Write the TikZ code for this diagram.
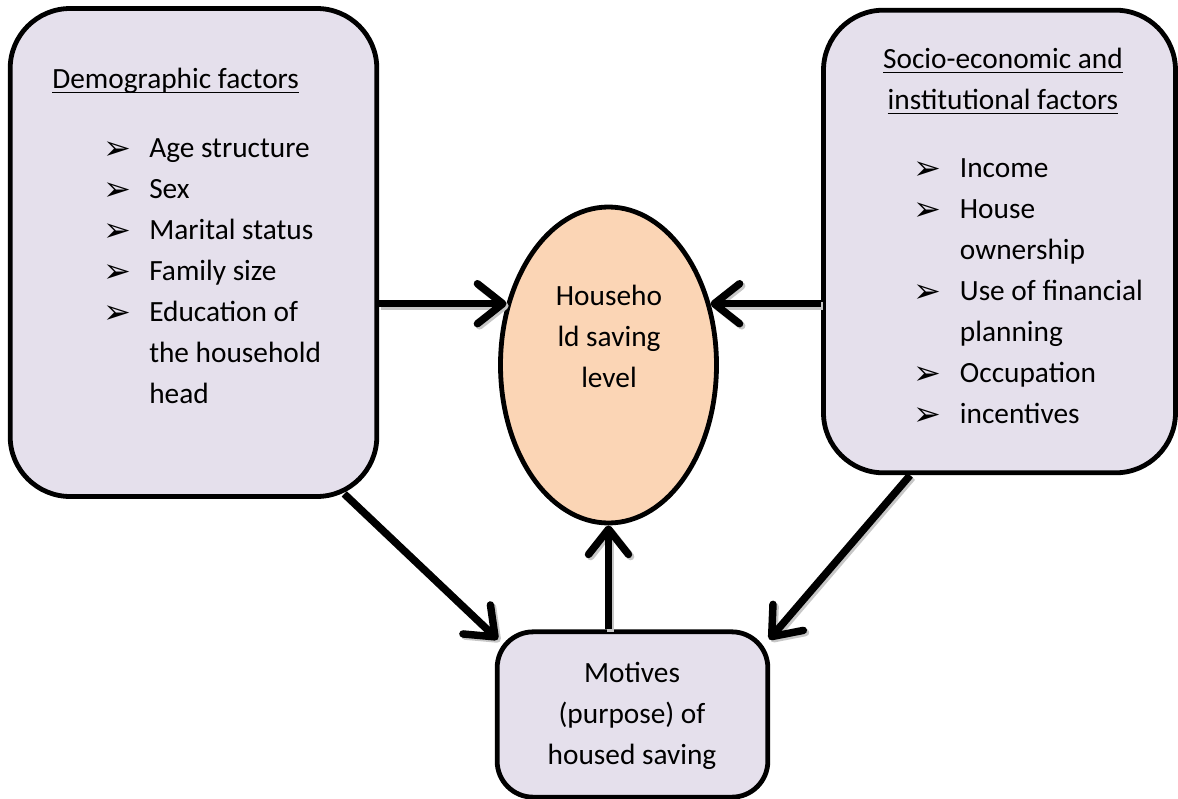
\documentclass[tikz,border=0pt]{standalone}
\usepackage{fontspec}
\setmainfont{Carlito}
\newfontfamily\symfont{DejaVu Sans}
\usetikzlibrary{arrows.meta,calc,shapes.geometric}
\definecolor{lavender}{HTML}{E5E0EC}
\definecolor{peach}{HTML}{FBD5B5}
% bullet and underline used in the boxes
\newcommand\tick{{\symfont\fontsize{25}{25}\selectfont\raisebox{-1.5pt}{➢}}}
\newcommand\hdrule[1]{\setbox0\hbox{#1}\rlap{\rule[-3.2pt]{\wd0}{1.3pt}}\box0}
\begin{document}
\begin{tikzpicture}[x=0.75pt,y=-0.75pt,
  box/.style={draw,line width=3.6pt,fill=lavender,rounded corners=#1,inner sep=0pt},
  txt/.style={inner sep=0pt,font=\fontsize{22}{30.75}\selectfont},
  flow/.style={line width=5.6pt,-{Straight Barb[length=19pt,width=30pt,round]},
    preaction={draw=black!22,line width=5.6pt,transform canvas={shift={(1.6pt,-1.6pt)}}}}]
\useasboundingbox (0,0) rectangle (1178,799);
% boxes
\node[box=45pt,minimum width=275pt,minimum height=366pt] (demo) at (193.5,252.5) {};
\node[box=45pt,minimum width=264pt,minimum height=347pt] (socio) at (999.5,241.5) {};
\node[draw,line width=3.6pt,fill=peach,ellipse,inner sep=0pt,minimum width=162pt,minimum height=237pt] (save) at (608.5,365) {};
\node[box=27pt,minimum width=203pt,minimum height=124pt] (motive) at (632.5,714.5) {};
% texts
\node[txt,anchor=base west] (demohd) at (52,89) {\hdrule{Demographic factors}};
\node[txt,anchor=base west] (demolist) at (103,157) {\begin{tabular}[t]{@{}p{34.5pt}@{}l@{}}
\tick & Age structure\\
\tick & Sex\\
\tick & Marital status\\
\tick & Family size\\
\tick & Education of\\
 & the household\\
 & head
\end{tabular}};
\node[txt,anchor=base] (sociohd) at (1003,69) {\begin{tabular}[t]{@{}c@{}}
\hdrule{Socio-economic and}\\
\hdrule{institutional factors}
\end{tabular}};
\node[txt,anchor=base west] (sociolist) at (913,177) {\begin{tabular}[t]{@{}p{35pt}@{}l@{}}
\tick & Income\\
\tick & House\\
 & ownership\\
\tick & Use of financial\\
 & planning\\
\tick & Occupation\\
\tick & incentives
\end{tabular}};
\node[txt,anchor=base] (savetxt) at (609,305) {\begin{tabular}[t]{@{}c@{}}
Househo\\ ld saving\\ level
\end{tabular}};
\node[txt,anchor=base] (motivetxt) at (632,682) {\begin{tabular}[t]{@{}c@{}}
Motives\\ (purpose) of\\ housed saving
\end{tabular}};
% connectors
\draw[flow] (demo.east |- save.149) -- (save.149);
\draw[flow] (socio.west |- save.31) -- (save.31);
\draw[flow] (motive.north -| save.south) -- (save.south);
\draw[flow] ($(demo.south east)+(-35,-5)$) -- ($(motive.north west)+(3,10)$);
\draw[flow] ($(socio.south west)+(89,0)$) -- ($(motive.north east)+(-1,10)$);
\end{tikzpicture}
\end{document}
